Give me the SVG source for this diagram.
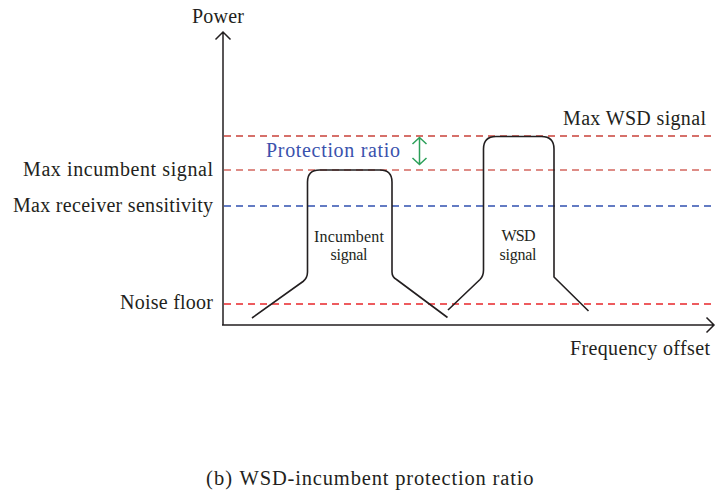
<svg xmlns="http://www.w3.org/2000/svg" width="721" height="496" viewBox="0 0 721 496">
<style>
text{font-family:"Liberation Serif","Times New Roman",serif;fill:#231f20}
.lbl{font-size:20px}
.sm{font-size:16px;text-anchor:middle}
.dash{fill:none;stroke-width:1.4;stroke-dasharray:7 5}
.ax{fill:none;stroke:#231f20;stroke-width:1.5}
.sig{fill:none;stroke:#231f20;stroke-width:1.6;stroke-linejoin:round}
</style>
<rect width="721" height="496" fill="#fff"/>
<g id="levels">
<line class="dash" x1="224" y1="136" x2="712" y2="136" stroke="#c9423a"/>
<line class="dash" x1="224" y1="170" x2="712" y2="170" stroke="#d4675f"/>
<line class="dash" x1="224" y1="206" x2="712" y2="206" stroke="#3050b0"/>
<line class="dash" x1="224" y1="304" x2="712" y2="304" stroke="#e8262a"/>
</g>
<g id="axes">
<path class="ax" d="M223 325 L223 32 M215.5 39.5 L223 32 L230.5 39.5"/>
<path class="ax" d="M222 325 L714 325 M706.5 317.5 L714 325 L706.5 332.5"/>
<text class="lbl" x="192" y="23" textLength="52">Power</text>
<text class="lbl" x="570" y="355" textLength="140">Frequency offset</text>
</g>
<g id="labels">
<text class="lbl" x="23" y="176" textLength="190">Max incumbent signal</text>
<text class="lbl" x="13" y="211.5" textLength="200">Max receiver sensitivity</text>
<text class="lbl" x="120" y="308.5" textLength="93">Noise floor</text>
<text class="lbl" x="563" y="125" textLength="143">Max WSD signal</text>
</g>
<g id="protection-ratio">
<text class="lbl" x="266" y="157" textLength="134" style="fill:#3a52ad">Protection ratio</text>
<path d="M419.5 137.5 L419.5 164.5 M412.5 144 L419.5 137.5 L426.5 144 M412.5 158 L419.5 164.5 L426.5 158" fill="none" stroke="#2ca05a" stroke-width="1.5"/>
</g>
<g id="incumbent-signal">
<path class="sig" d="M252 318 L303 281.5 Q307.5 278 307.5 272 L307.5 182 Q307.5 170 319.5 170 L380 170 Q392 170 392 182 L392 272 Q392 277 396.5 279.5 L447.5 317.5"/>
<text class="sm" x="349" y="241.5" textLength="70">Incumbent</text>
<text class="sm" x="349" y="260" textLength="37">signal</text>
</g>
<g id="wsd-signal">
<path class="sig" d="M448 310 L480 279.5 Q483.5 276 483.5 270 L483.5 149 Q483.5 136.5 496 136.5 L541.5 136.5 Q554 136.5 554 149 L554 277 L588.5 311"/>
<text class="sm" x="518.5" y="241" textLength="34">WSD</text>
<text class="sm" x="518" y="260" textLength="37">signal</text>
</g>
<g id="caption">
<text x="206" y="485" style="font-size:20.5px" textLength="26">(b)</text>
<text x="239.5" y="485" style="font-size:20.5px" textLength="294">WSD-incumbent protection ratio</text>
</g>
</svg>
